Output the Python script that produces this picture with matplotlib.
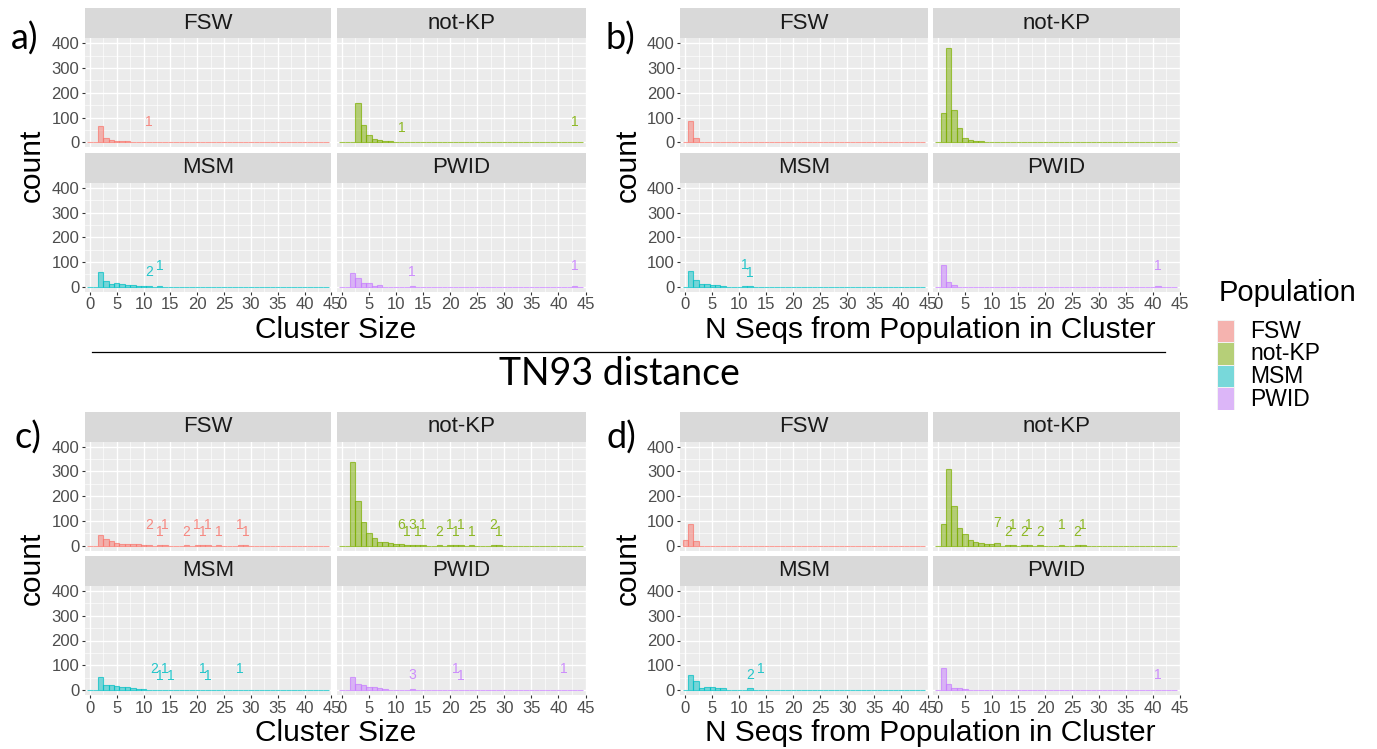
import matplotlib
matplotlib.use("Agg")
import matplotlib.pyplot as plt
from matplotlib.colors import to_rgba
from matplotlib.patches import Rectangle
import numpy as np

# ---------------- data ----------------
POPS = ["FSW", "not-KP", "MSM", "PWID"]
POP_COLORS = ["#F8766D", "#7CAE00", "#00BFC4", "#C77CFF"]
X_TICKS = [0, 5, 10, 15, 20, 25, 30, 35, 40, 45]
Y_TICKS = [0, 100, 200, 300, 400]

# panel a) cluster size (threshold 1)
a_fsw_bins = [2, 3, 4, 5, 6, 7, 8, 9, 10, 11]
a_fsw_cnt = [66, 19, 8, 5, 5, 4, 3, 2, 3, 1]
a_fsw_lx, a_fsw_ly, a_fsw_lt = [11], [83], ["1"]
a_nkp_bins = [3, 4, 5, 6, 7, 8, 9, 10, 11, 43]
a_nkp_cnt = [158, 70, 30, 14, 9, 5, 4, 3, 1, 1]
a_nkp_lx, a_nkp_ly, a_nkp_lt = [11, 43], [59, 81], ["1", "1"]
a_msm_bins = [2, 3, 4, 5, 6, 7, 8, 9, 10, 11, 13]
a_msm_cnt = [58, 23, 9, 16, 11, 7, 5, 4, 4, 2, 1]
a_msm_lx, a_msm_ly, a_msm_lt = [11, 13], [58, 84], ["2", "1"]
a_pwid_bins = [2, 3, 4, 5, 6, 7, 13, 43]
a_pwid_cnt = [54, 34, 15, 15, 4, 7, 1, 1]
a_pwid_lx, a_pwid_ly, a_pwid_lt = [13, 43], [58, 84], ["1", "1"]

# panel b) N seqs from population in cluster (threshold 1)
b_fsw_bins = [1, 2]
b_fsw_cnt = [86, 16]
b_fsw_lx, b_fsw_ly, b_fsw_lt = [], [], []
b_nkp_bins = [1, 2, 3, 4, 5, 6, 7, 8, 9]
b_nkp_cnt = [118, 381, 131, 59, 16, 9, 5, 5, 3]
b_nkp_lx, b_nkp_ly, b_nkp_lt = [], [], []
b_msm_bins = [1, 2, 3, 4, 5, 6, 7, 11, 12]
b_msm_cnt = [65, 27, 9, 12, 7, 5, 3, 1, 1]
b_msm_lx, b_msm_ly, b_msm_lt = [11, 12], [88, 57], ["1", "1"]
b_pwid_bins = [1, 2, 3, 41]
b_pwid_cnt = [88, 18, 7, 1]
b_pwid_lx, b_pwid_ly, b_pwid_lt = [41], [84], ["1"]

# panel c) cluster size (threshold 2)
c_fsw_bins = [2, 3, 4, 5, 6, 7, 8, 9, 10, 11, 13, 14, 18, 20, 21, 22, 24, 28, 29]
c_fsw_cnt = [45, 26, 20, 12, 7, 5, 5, 5, 3, 2, 1, 1, 2, 1, 1, 1, 1, 1, 1]
c_fsw_lx = [11, 13, 14, 18, 20, 21, 22, 24, 28, 29]
c_fsw_ly = [84, 55, 82, 57, 84, 55, 84, 57, 84, 55]
c_fsw_lt = ["2", "1", "1", "2", "1", "1", "1", "1", "1", "1"]
c_nkp_bins = [2, 3, 4, 5, 6, 7, 8, 9, 10, 11, 12, 13, 14, 15, 18, 20, 21, 22, 24, 28, 29]
c_nkp_cnt = [336, 181, 96, 53, 30, 16, 14, 9, 5, 6, 1, 3, 1, 1, 2, 1, 1, 1, 1, 2, 1]
c_nkp_lx = [11, 12, 13, 14, 15, 18, 20, 21, 22, 24, 28, 29]
c_nkp_ly = [84, 57, 84, 57, 84, 57, 84, 57, 84, 57, 84, 57]
c_nkp_lt = ["6", "1", "3", "1", "1", "2", "1", "1", "1", "1", "2", "1"]
c_msm_bins = [2, 3, 4, 5, 6, 7, 8, 9, 10, 12, 13, 14, 15, 21, 22, 28]
c_msm_cnt = [51, 22, 20, 16, 14, 11, 9, 5, 3, 2, 1, 1, 1, 1, 1, 1]
c_msm_lx = [12, 13, 14, 15, 21, 22, 28]
c_msm_ly = [85, 58, 85, 58, 85, 58, 85]
c_msm_lt = ["2", "1", "1", "1", "1", "1", "1"]
c_pwid_bins = [2, 3, 4, 5, 6, 7, 8, 13, 21, 22, 41]
c_pwid_cnt = [51, 24, 20, 14, 11, 7, 4, 3, 1, 1, 1]
c_pwid_lx, c_pwid_ly, c_pwid_lt = [13, 21, 22, 41], [61, 85, 58, 85], ["3", "1", "1", "1"]

# panel d) N seqs from population in cluster (threshold 2)
d_fsw_bins = [0, 1, 2]
d_fsw_cnt = [22, 87, 19]
d_fsw_lx, d_fsw_ly, d_fsw_lt = [], [], []
d_nkp_bins = [1, 2, 3, 4, 5, 6, 7, 8, 9, 10, 11, 13, 14, 16, 17, 19, 23, 26, 27]
d_nkp_cnt = [87, 311, 161, 70, 47, 23, 16, 11, 7, 5, 9, 2, 1, 2, 1, 2, 1, 2, 1]
d_nkp_lx = [11, 13, 14, 16, 17, 19, 23, 26, 27]
d_nkp_ly = [92, 56, 85, 56, 85, 56, 85, 56, 85]
d_nkp_lt = ["7", "2", "1", "2", "1", "2", "1", "2", "1"]
d_msm_bins = [1, 2, 3, 4, 5, 6, 7, 12]
d_msm_cnt = [61, 38, 9, 12, 12, 8, 8, 7]
d_msm_lx, d_msm_ly, d_msm_lt = [12, 14], [61, 85], ["2", "1"]
d_pwid_bins = [1, 2, 3, 4, 5]
d_pwid_cnt = [88, 24, 8, 8, 3]
d_pwid_lx, d_pwid_ly, d_pwid_lt = [41], [61], ["1"]

PANELS = {
    "a": [(a_fsw_bins, a_fsw_cnt, a_fsw_lx, a_fsw_ly, a_fsw_lt),
          (a_nkp_bins, a_nkp_cnt, a_nkp_lx, a_nkp_ly, a_nkp_lt),
          (a_msm_bins, a_msm_cnt, a_msm_lx, a_msm_ly, a_msm_lt),
          (a_pwid_bins, a_pwid_cnt, a_pwid_lx, a_pwid_ly, a_pwid_lt)],
    "b": [(b_fsw_bins, b_fsw_cnt, b_fsw_lx, b_fsw_ly, b_fsw_lt),
          (b_nkp_bins, b_nkp_cnt, b_nkp_lx, b_nkp_ly, b_nkp_lt),
          (b_msm_bins, b_msm_cnt, b_msm_lx, b_msm_ly, b_msm_lt),
          (b_pwid_bins, b_pwid_cnt, b_pwid_lx, b_pwid_ly, b_pwid_lt)],
    "c": [(c_fsw_bins, c_fsw_cnt, c_fsw_lx, c_fsw_ly, c_fsw_lt),
          (c_nkp_bins, c_nkp_cnt, c_nkp_lx, c_nkp_ly, c_nkp_lt),
          (c_msm_bins, c_msm_cnt, c_msm_lx, c_msm_ly, c_msm_lt),
          (c_pwid_bins, c_pwid_cnt, c_pwid_lx, c_pwid_ly, c_pwid_lt)],
    "d": [(d_fsw_bins, d_fsw_cnt, d_fsw_lx, d_fsw_ly, d_fsw_lt),
          (d_nkp_bins, d_nkp_cnt, d_nkp_lx, d_nkp_ly, d_nkp_lt),
          (d_msm_bins, d_msm_cnt, d_msm_lx, d_msm_ly, d_msm_lt),
          (d_pwid_bins, d_pwid_cnt, d_pwid_lx, d_pwid_ly, d_pwid_lt)],
}
X_TITLES = {"a": "Cluster Size", "b": "N Seqs from Population in Cluster",
            "c": "Cluster Size", "d": "N Seqs from Population in Cluster"}

# ---------------- layout ----------------
W, H = 1377, 749
plt.rcParams["font.family"] = ["Liberation Sans", "DejaVu Sans"]
fig = plt.figure(figsize=(W / 100, H / 100), dpi=100)
fig.patch.set_facecolor("white")

# overlay axes in pixel units (for annotations)
ov = fig.add_axes([0, 0, 1, 1], zorder=-1)
ov.set_xlim(0, W)
ov.set_ylim(H, 0)
ov.axis("off")


def px_axes(x0, y0, x1, y1, **kw):
    return fig.add_axes([x0 / W, 1 - y1 / H, (x1 - x0) / W, (y1 - y0) / H], **kw)


COLS = {"ac": [(85, 331.4), (336.8, 585.5)], "bd": [(680.4, 928), (933, 1179.5)]}
ROWS = {"ab": [((8, 38.4), (38.4, 147.3)), ((152.7, 183), (183, 291.6))],
        "cd": [((412, 441.7), (441.7, 550.6)), ((556, 586), (586, 695))]}
PANEL_POS = {"a": ("ac", "ab"), "b": ("bd", "ab"), "c": ("ac", "cd"), "d": ("bd", "cd")}

BIN_CENTERS = np.arange(0, 45)


def draw_facet(ax, bins, cnt, lx, ly, lt, color, show_x, show_y):
    full = np.zeros(len(BIN_CENTERS))
    for b, c in zip(bins, cnt):
        full[b] = c
    ax.set_facecolor("#EBEBEB")
    ax.bar(BIN_CENTERS, full, width=1.0, align="center",
           facecolor=to_rgba(color, 0.5), edgecolor=to_rgba(color, 0.7),
           linewidth=0.8, zorder=3)
    for x, y, t in zip(lx, ly, lt):
        ax.text(x, y, t, color=color, alpha=0.85, fontsize=10,
                ha="center", va="center", zorder=4)
    ax.set_xlim(-0.93, 45.0)
    ax.set_ylim(-20, 420)
    ax.set_xticks(X_TICKS)
    ax.set_xticks([2.5 + 5 * k for k in range(9)], minor=True)
    ax.set_yticks(Y_TICKS)
    ax.set_yticks([50, 150, 250, 350], minor=True)
    ax.grid(True, which="major", color="white", linewidth=1.0, zorder=0)
    ax.grid(True, which="minor", color="white", linewidth=0.45, zorder=0)
    ax.set_axisbelow(True)
    for s in ax.spines.values():
        s.set_visible(False)
    ax.tick_params(which="minor", length=0)
    ax.tick_params(axis="x", which="major", length=2.5, width=0.8, color="#333333",
                   labelsize=12, labelcolor="#4D4D4D", pad=1.5,
                   bottom=show_x, labelbottom=show_x)
    ax.tick_params(axis="y", which="major", length=2.5, width=0.8, color="#333333",
                   labelsize=12, labelcolor="#4D4D4D", pad=1.5,
                   left=show_y, labelleft=show_y)
    ax.set_xticklabels([str(v) for v in X_TICKS])
    ax.set_yticklabels([str(v) for v in Y_TICKS])


for key, facets in PANELS.items():
    ckey, rkey = PANEL_POS[key]
    cols = COLS[ckey]
    rows = ROWS[rkey]
    for i, (data, pop, color) in enumerate(zip(facets, POPS, POP_COLORS)):
        r, cc = divmod(i, 2)
        (sy0, sy1), (py0, py1) = rows[r]
        x0, x1 = cols[cc]
        sax = px_axes(x0, sy0, x1, sy1)
        sax.set_facecolor("#D9D9D9")
        sax.set_xticks([])
        sax.set_yticks([])
        for s in sax.spines.values():
            s.set_visible(False)
        sax.text(0.5, 0.5, pop, transform=sax.transAxes, ha="center", va="center",
                 fontsize=16, color="#1A1A1A")
        ax = px_axes(x0, py0, x1, py1)
        draw_facet(ax, *data, color, show_x=(r == 1), show_y=(cc == 0))
    # axis titles
    xmid = (cols[0][0] + cols[1][1]) / 2
    ytop = rows[0][1][0]
    ybot = rows[1][1][1]
    ov.text(xmid, ybot + 38, X_TITLES[key], ha="center", va="center",
            fontsize=21.5, color="black")
    ov.text(cols[0][0] - 53, (ytop + ybot) / 2, "count", ha="center", va="center",
            rotation=90, fontsize=21.5, color="black")

# panel letters
for lab, (x, y) in {"a)": (11, 50), "b)": (606, 50), "c)": (14, 449), "d)": (606, 449)}.items():
    ov.text(x, y, lab, ha="left", va="baseline", fontsize=26, family="Lato", color="black")

# separator and middle label
ov.plot([92, 1165], [352, 352], color="black", linewidth=0.9)
ov.text(619, 374, "TN93 distance", ha="center", va="center", fontsize=27,
        family="Lato", color="black")

# legend
ov.text(1219, 293, "Population", ha="left", va="center", fontsize=21, color="black")
key_y = [320, 342.5, 365, 387.5]
for pop, color, ky in zip(POPS, POP_COLORS, key_y):
    ov.add_patch(Rectangle((1217, ky), 18, 22.5, facecolor="#F2F2F2", edgecolor="none"))
    ov.add_patch(Rectangle((1218, ky + 0.5), 16, 21.5, facecolor=to_rgba(color, 0.5),
                           edgecolor="none"))
    ov.text(1250, ky + 11.5, pop, ha="left", va="center", fontsize=16.5, color="black")

fig.savefig("out.png", dpi=100)
